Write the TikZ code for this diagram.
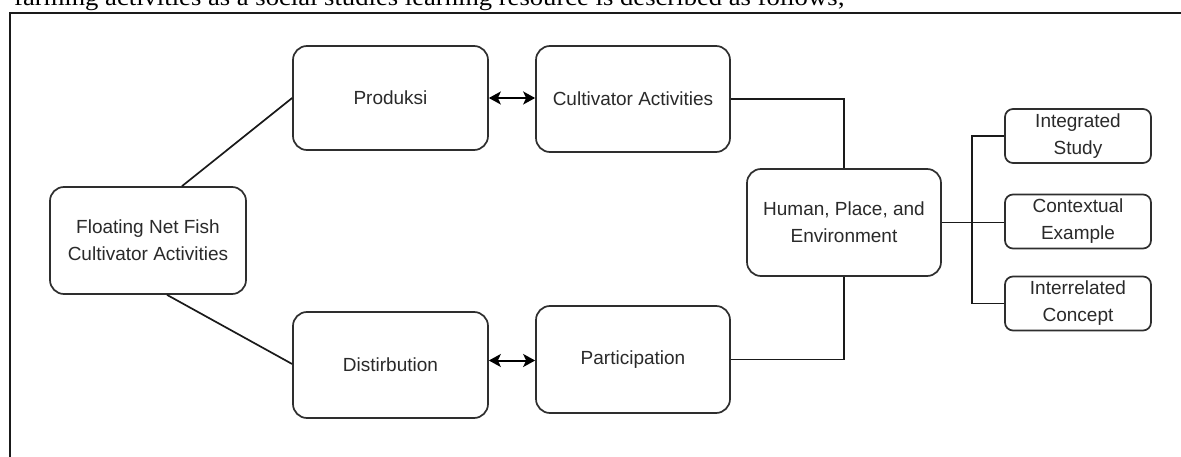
\documentclass[tikz,border=0pt]{standalone}
\usepackage{fontspec}
\setmainfont{Liberation Sans}
\newfontfamily\seriffont{Liberation Serif}
\usetikzlibrary{arrows.meta}
\definecolor{boxc}{HTML}{2E2E2E}
\definecolor{txtc}{HTML}{2A2A2A}
\definecolor{linec}{HTML}{1A1A1A}
\begin{document}
\begin{tikzpicture}[x=1pt,y=-1pt,
  box/.style={draw=boxc, line width=1.7pt, rounded corners=14pt, fill=white,
    align=center, text=txtc, font=\fontsize{19}{27}\selectfont, inner sep=0pt,
    minimum width=195pt, minimum height=106pt},
  smallbox/.style={box, rounded corners=8pt, minimum width=146pt, minimum height=54pt},
  conn/.style={draw=linec, line width=1.7pt},
  biarrow/.style={draw=black, line width=2pt, {Stealth[length=12pt,width=13pt,inset=3pt]}-{Stealth[length=12pt,width=13pt,inset=3pt]}}
]
\useasboundingbox (0,0) rectangle (1181,457);
\clip (0,0) rectangle (1181,457);
\node[anchor=base west, font=\seriffont\fontsize{24}{28}\selectfont, inner sep=0pt] (intro) at (14,6)
  {\scalebox{1.11}[1]{farming activities as a social studies learning resource is described as follows;}};
\draw[line width=1.4pt, draw=linec] (10,480) -- (10,13) -- (1200,13);

\node[box, minimum width=196pt, minimum height=107pt] (float) at (148,240.5) {Floating Net Fish\\Cultivator Activities};
\node[box, minimum height=104pt] (prod) at (390.5,98) {Produksi};
\node[box, minimum width=194pt] (cult) at (633,99) {Cultivator Activities};
\node[box] (dist) at (390.5,365) {Distirbution};
\node[box, minimum width=194pt, minimum height=107pt] (part) at (633,359.5) {Participation};
\node[box, minimum width=194pt, minimum height=107pt] (human) at (844,222.5) {Human, Place, and\\Environment};
\node[smallbox] (integ) at (1078,136) {Integrated\\Study};
\node[smallbox] (context) at (1078,221.5) {Contextual\\Example};
\node[smallbox] (interrel) at (1078,303.5) {Interrelated\\Concept};

\draw[conn] ([xshift=34pt]float.north) -- (prod.west);
\draw[conn] ([xshift=19pt]float.south) -- ([yshift=1pt]dist.west);
\draw[biarrow] (prod.east) -- (prod.east -| cult.west);
\draw[biarrow] ([yshift=-1pt]part.west -| dist.east) -- ([yshift=-1pt]part.west);
\draw[conn] (cult.east) -| (human.north);
\draw[conn] (part.east) -| (human.south);
\draw[conn] (human.east) -- (human.east -| context.west);
\draw[conn] (integ.west) -- ++(-32,0) |- (interrel.west);
\end{tikzpicture}
\end{document}
